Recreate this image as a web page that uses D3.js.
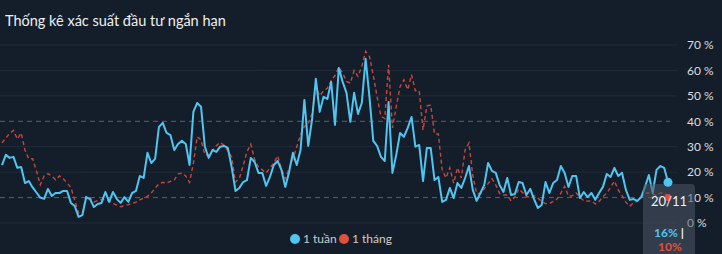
<!DOCTYPE html>
<html><head><meta charset="utf-8">
<script src="https://cdn.jsdelivr.net/npm/d3@7"></script>
<style>
body{margin:0;background:#141e2a;overflow:hidden;}
svg{display:block;font-family:Lato,"Open Sans",sans-serif;}
</style></head><body>
<svg id="c" width="722" height="254"></svg>
<script>
const title = "Thống kê xác suất đầu tư ngắn hạn";
const seriesNames = ["1 tuần", "1 tháng"];
const seriesColors = ["#4fc6f2", "#e0503c"];
const lastLabel = "20/11";
const yTicks = [0, 10, 20, 30, 40, 50, 60, 70];
const refLines = [10, 40];
const week = [22.8,26.8,25.6,26,21.7,22,15.7,16.5,14,12,10,9.5,13.4,10.6,11.8,11.8,12.6,12.6,7.9,6.7,
2.4,3.1,10.2,9.4,6.3,7.5,7.9,12.2,8.3,12.2,9.4,7.9,10.2,8.3,11.8,12.6,18.5,17.7,27.6,23.6,
25.2,37.8,39.4,35.4,34.6,28.7,31.1,32.3,31.1,22.8,43.7,47.2,45.7,30,25.6,28.7,28,30,30.3,29.5,
22,12.6,13.8,16.1,16.9,25.6,24,19.7,19.7,14.6,18.1,22.8,24.4,20.9,14.2,20,27.6,22.8,28.7,48.4,
30.3,40.6,56.7,43.7,49.6,48.8,55.5,38.6,61,55.5,51.2,39.8,51.2,42.9,47.2,64.6,49.6,32.3,30.3,26,
24.4,47.6,19.7,26.8,35.4,33.9,37.4,41.7,30,30.7,16.5,29.5,29.5,16.9,18.1,8.3,9.1,13.8,9.8,15.7,
13.8,17.7,22.4,13,8.7,11.8,15,23.6,20.5,19.7,15,12.2,17.7,11,11.4,16.1,15.7,11,13.4,9.4,
5.9,7.1,16.1,11.8,15.7,16.9,22.4,19.7,14.2,18.5,18.5,9.8,12.2,10.2,11.8,9.1,11.8,14.2,19.3,18.1,
21.7,18.5,19.7,13,9.1,9.4,8.7,10.2,14.2,18.9,11.8,20.9,22.4,21.7,16];
const month = [31.5,33.5,35.2,36.4,33,35.4,28.7,25.2,25.3,20.5,15,18.5,19.4,18.5,17,18.5,17.4,15.7,14,9,
4,3.8,10.7,9.8,8.2,8.8,9.3,9.2,8.6,7.7,7,6.4,6.8,7.2,7.7,8.2,9.1,9.8,10.5,11.8,
13.7,15.4,16,15.7,16.4,16.9,19.3,19.6,18.5,16,23.5,33.9,32.7,26.8,26.8,28.4,30.4,31.7,30.6,28.4,
26,16.1,17.5,22.5,28,31,25,22,20.9,19.7,21.6,23.6,26.4,21.5,17.4,21.5,25,30,34.7,38,
38.9,43,53.5,50,52,53,56,58,61.2,59,55.7,55,60,57.7,61.6,67.5,65.5,58,49.7,42,
41.1,62.2,37.4,45.7,53.7,56.3,52.4,58.3,52,52,36.6,46,46.4,35,35,20.9,17.7,21.7,15.7,21.7,
17.7,28.8,31.5,18.7,11.6,11.6,13.4,15.5,17.4,15,11.6,11,11,8.7,10.2,13.4,12,10.5,10,10.8,
9.8,8.5,7.6,7.6,8.5,9.4,11.7,14.4,10.5,10.7,11.8,10.2,8.7,8.6,8.7,7.5,8.5,10.4,11.8,14,
16.5,13,10.8,8.2,6.6,7.9,8.6,9.9,11.8,11.8,11.3,10.8,11.8,11.8,10];

const svg = d3.select("#c");
const n = week.length;
const x = d3.scaleLinear().domain([0, n - 1]).range([2, 668]);
const y = d3.scaleLinear().domain([0, 70]).range([223, 45]);

svg.append("rect").attr("width", 722).attr("height", 254).attr("fill", "#141e2a");

svg.append("text").attr("x", 5).attr("y", 26).attr("fill", "#eeeeee")
  .attr("font-size", 14.5).text(title);

// grid
svg.append("g").selectAll("line").data(yTicks.filter(t => !refLines.includes(t))).join("line")
  .attr("x1", 0).attr("x2", 677).attr("y1", d => y(d)).attr("y2", d => y(d))
  .attr("stroke", "#212c39").attr("stroke-width", 1);
svg.append("g").selectAll("line").data(refLines).join("line")
  .attr("x1", 0).attr("x2", 670).attr("y1", d => y(d)).attr("y2", d => y(d))
  .attr("stroke", "#5c6168").attr("stroke-width", 1).attr("stroke-dasharray", "5,4");

// axis
const ax = svg.append("g").attr("transform", "translate(687,0)")
  .call(d3.axisRight(y).tickValues(yTicks).tickSize(0).tickPadding(0).tickFormat(d => d + " %"));
ax.select(".domain").remove();
ax.selectAll("text").attr("fill", "#dddddd").attr("font-size", 12).attr("font-family", "Lato, sans-serif");

// lines
const line = d3.line().x((d, i) => x(i)).y(d => y(d)).curve(d3.curveLinear);
svg.append("path").datum(month).attr("d", line).attr("fill", "none")
  .attr("stroke", "#c9473a").attr("stroke-width", 1.4).attr("stroke-dasharray", "4,3");
svg.append("path").datum(week).attr("d", line).attr("fill", "none")
  .attr("stroke", seriesColors[0]).attr("stroke-width", 2).attr("stroke-linejoin", "round");

// tooltip box
svg.append("rect").attr("x", 643).attr("y", 184).attr("width", 52).attr("height", 80).attr("rx", 4)
  .attr("fill", "rgba(75,86,100,0.55)");

// end dots
svg.append("circle").attr("cx", x(n - 1)).attr("cy", y(week[n - 1])).attr("r", 4.5).attr("fill", seriesColors[0]);
svg.append("circle").attr("cx", x(n - 1)).attr("cy", y(month[n - 1])).attr("r", 3.5).attr("fill", seriesColors[1]);

svg.append("text").attr("x", 669).attr("y", 206).attr("text-anchor", "middle")
  .attr("fill", "#f2f2f2").attr("font-size", 13).text(lastLabel);
const t1 = svg.append("text").attr("x", 669).attr("y", 237).attr("text-anchor", "middle")
  .attr("font-size", 12).attr("font-weight", "bold");
t1.append("tspan").attr("fill", seriesColors[0]).text(Math.round(week[n - 1]) + "%");
t1.append("tspan").attr("fill", "#f2f2f2").text(" |");
svg.append("text").attr("x", 670).attr("y", 251).attr("text-anchor", "middle")
  .attr("font-size", 12).attr("font-weight", "bold").attr("fill", seriesColors[1])
  .text(Math.round(month[n - 1]) + "%");

// legend
const lg = [{x: 295, name: seriesNames[0], c: seriesColors[0]}, {x: 344, name: seriesNames[1], c: seriesColors[1]}];
const g = svg.append("g");
g.selectAll("circle").data(lg).join("circle").attr("cx", d => d.x).attr("cy", 239).attr("r", 5).attr("fill", d => d.c);
g.selectAll("text").data(lg).join("text").attr("x", d => d.x + 8).attr("y", 243)
  .attr("fill", "#cccccc").attr("font-size", 12).text(d => d.name);
</script>
</body></html>
